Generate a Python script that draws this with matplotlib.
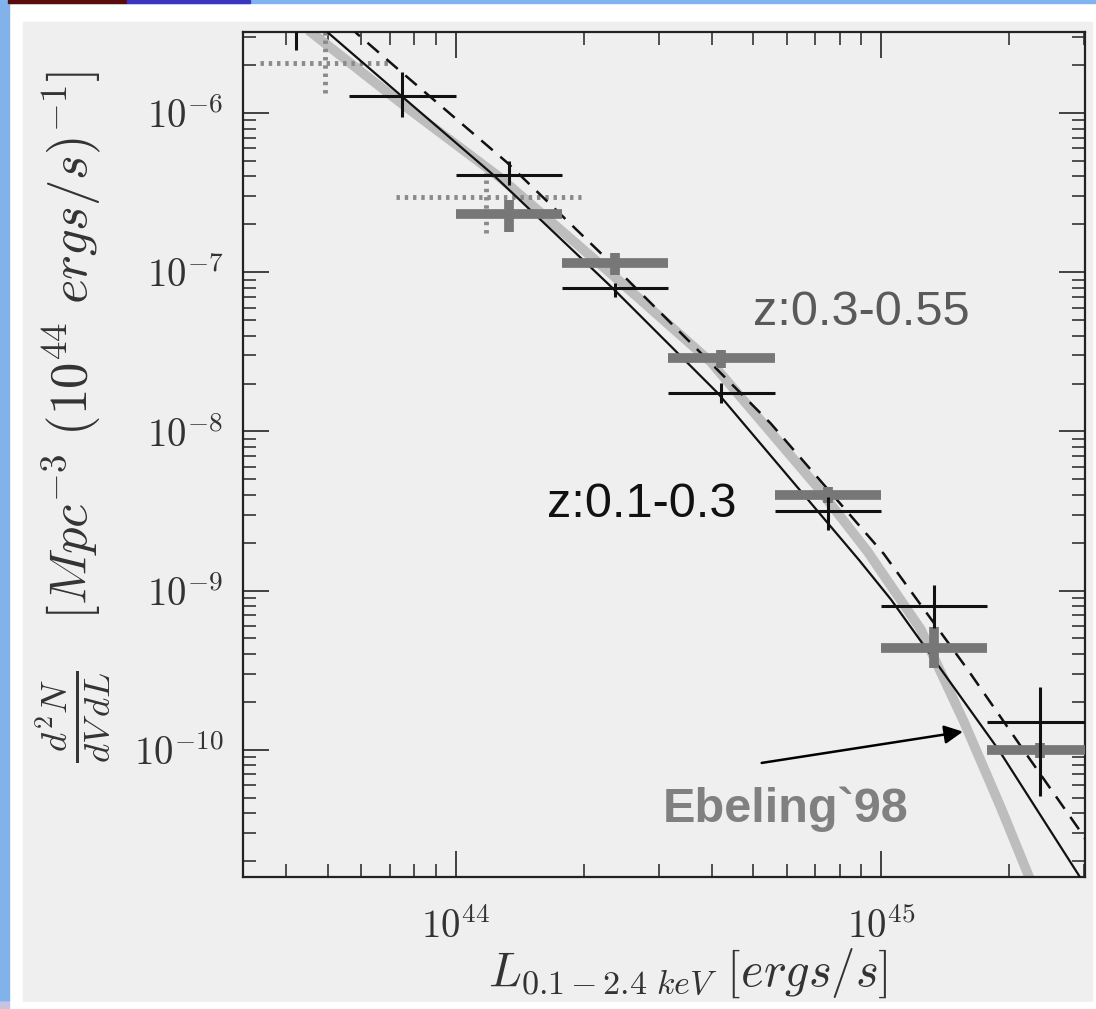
import numpy as np
import matplotlib
matplotlib.use("Agg")
import matplotlib.pyplot as plt
from matplotlib.patches import Rectangle
from matplotlib.ticker import LogLocator, NullFormatter, FixedLocator, FixedFormatter

plt.rcParams['mathtext.fontset'] = 'cm'

# bins in log10(L) (0.25 dex wide)
bin_lo = [43.50, 43.75, 44.00, 44.25, 44.50, 44.75, 45.00, 45.25]
bin_hi = [43.75, 44.00, 44.25, 44.50, 44.75, 45.00, 45.25, 45.50]

# z:0.1-0.3 (black), log10 of dN/dVdL
blk_y = [-5.35, -5.893, -6.389, -7.099, -7.758, -8.498, -9.095, -9.823]
blk_lo = [-5.604, -6.025, -6.452, -7.155, -7.820, -8.618, -9.233, -10.294]
blk_hi = [-5.10, -5.743, -6.301, -7.067, -7.695, -8.410, -8.963, -9.603]

# z:0.3-0.55 (grey), bins 2..7
gry_bin = [2, 3, 4, 5, 6, 7]
gry_y = [-6.634, -6.942, -7.538, -8.398, -9.358, -10.005]
gry_lo = [-6.747, -7.017, -7.601, -8.448, -9.484, -10.05]
gry_hi = [-6.546, -6.879, -7.488, -8.348, -9.227, -9.96]

# dotted local points
dot_x = [43.694, 44.071]
dot_xlo = [43.541, 43.859]
dot_xhi = [43.847, 44.294]
dot_y = [-5.686, -6.527]
dot_ylo = [-5.874, -6.753]
dot_yhi = [-5.40, -6.377]

# model curves (log10 L, log10 n)
solid_L = [43.682, 43.699, 43.873, 44.089, 44.369, 44.616, 44.948, 45.024, 45.278, 45.464, 45.482]
solid_n = [-5.454, -5.492, -5.893, -6.389, -7.099, -7.758, -8.806, -9.057, -10.005, -10.783, -10.865]
dash_L = [43.750, 43.767, 43.873, 44.120, 44.341, 44.546, 44.741, 45.007, 45.205, 45.336, 45.471, 45.49]
dash_n = [-5.45, -5.498, -5.743, -6.308, -6.879, -7.425, -7.950, -8.770, -9.500, -10.005, -10.520, -10.60]
ebel_L = [43.654, 43.878, 44.106, 44.369, 44.600, 44.852, 44.969, 45.094, 45.195, 45.282, 45.346, 45.358]
ebel_n = [-5.479, -5.950, -6.408, -7.017, -7.563, -8.354, -8.756, -9.245, -9.823, -10.363, -10.783, -10.865]

p = lambda a: np.power(10.0, np.asarray(a, dtype=float))

fig = plt.figure(figsize=(10.96, 10.09), dpi=100, facecolor='white')

# slide frame
fig.add_artist(Rectangle((23/1096, 1-1002/1009), (1092-23)/1096, (1002-22)/1009,
                         transform=fig.transFigure, color='#efefef', zorder=-5))
fig.add_artist(Rectangle((0, 0), 9/1096, 1, transform=fig.transFigure, color='#82b2ea', zorder=-4))
fig.add_artist(Rectangle((0, 1-3/1009), 1, 3/1009, transform=fig.transFigure, color='#80b4f0', zorder=-4))
fig.add_artist(Rectangle((8/1096, 1-3/1009), 119/1096, 3/1009, transform=fig.transFigure, color='#5a0c0c', zorder=-3))
fig.add_artist(Rectangle((127/1096, 1-3/1009), 123/1096, 3/1009, transform=fig.transFigure, color='#3a36c0', zorder=-3))

ax = fig.add_axes([243/1096, 1-877/1009, (1085-243)/1096, (877-32)/1009])
ax.set_facecolor('#efefef')
ax.set_xscale('log')
ax.set_yscale('log')
ax.set_xlim(p(43.50), p(45.48))
ax.set_ylim(p(-10.80), p(-5.49))

# curves
ax.plot(p(ebel_L), p(ebel_n), color='#bdbdbd', lw=7, solid_capstyle='butt', zorder=2)
ax.plot(p(solid_L), p(solid_n), color='#111111', lw=1.6, zorder=3)
ax.plot(p(dash_L), p(dash_n), color='#111111', lw=1.8, dashes=(6, 4), zorder=3)

# dotted points
ax.hlines(p(dot_y), p(dot_xlo), p(dot_xhi), colors='#8a8a8a', lw=3.5,
          linestyles=[(0, (0.7, 1.0))], zorder=2.5)
ax.vlines(p(dot_x), p(dot_ylo), p(dot_yhi), colors='#8a8a8a', lw=3.5,
          linestyles=[(0, (0.7, 1.0))], zorder=2.5)

# grey points
gc = [(bin_lo[i] + bin_hi[i]) / 2 for i in gry_bin]
ax.hlines(p(gry_y), p([bin_lo[i] for i in gry_bin]), p([bin_hi[i] for i in gry_bin]),
          colors='#777777', lw=7, zorder=4)
ax.vlines(p(gc), p(gry_lo), p(gry_hi), colors='#777777', lw=7, zorder=4)

# black points
bc = [(a + b) / 2 for a, b in zip(bin_lo, bin_hi)]
ax.hlines(p(blk_y), p(bin_lo), p(bin_hi), colors='#111111', lw=2.2, zorder=5)
ax.vlines(p(bc), p(blk_lo), p(blk_hi), colors='#111111', lw=2.2, zorder=5)

# ticks
for s in ax.spines.values():
    s.set_color('#222222')
    s.set_linewidth(1.6)
ax.xaxis.set_major_locator(FixedLocator([1e44, 1e45]))
ax.xaxis.set_major_formatter(FixedFormatter([r'$10^{44}$', r'$10^{45}$']))
ax.xaxis.set_minor_locator(LogLocator(base=10, subs=np.arange(2, 10)))
ax.xaxis.set_minor_formatter(NullFormatter())
yt = [1e-10, 1e-9, 1e-8, 1e-7, 1e-6]
ax.yaxis.set_major_locator(FixedLocator(yt))
ax.yaxis.set_major_formatter(FixedFormatter([r'$10^{-10}$', r'$10^{-9}$', r'$10^{-8}$',
                                             r'$10^{-7}$', r'$10^{-6}$']))
ax.yaxis.set_minor_locator(LogLocator(base=10, subs=np.arange(2, 10), numticks=20))
ax.yaxis.set_minor_formatter(NullFormatter())
ax.tick_params(which='both', direction='in', top=True, right=True, color='#333333')
ax.tick_params(which='major', length=19, width=1.3, labelsize=28, labelcolor='#333333')
ax.tick_params(which='minor', length=9.5, width=1.2)
ax.tick_params(axis='x', which='major', pad=22)
ax.tick_params(axis='y', which='major', pad=14)

ax.set_xlabel(r'$L_{0.1-2.4\ keV}\ [ergs/s]$', fontsize=35, color='#333333')
ax.xaxis.set_label_coords(0.528, -0.082)
ax.set_ylabel(r'$\frac{d^2N}{dV\,dL}\ \ \ [Mpc^{-3}\ (10^{44}\ ergs/s)^{-1}]$',
              fontsize=38, color='#333333')
ax.yaxis.set_label_coords(-0.155, 0.545)

# annotations
ax.text(0.606, 0.653, 'z:0.3-0.55', transform=ax.transAxes, fontsize=35,
        family='Liberation Sans', color='#5a5a5a', va='baseline', zorder=6)
ax.text(0.361, 0.426, 'z:0.1-0.3', transform=ax.transAxes, fontsize=35,
        family='Liberation Sans', color='#111111', va='baseline', zorder=6)
ax.text(0.498, 0.065, 'Ebeling`98', transform=ax.transAxes, fontsize=35,
        family='Liberation Sans', fontweight='bold', color='#808080', va='baseline', zorder=6)
ax.annotate('', xy=(0.855, 0.172), xytext=(0.616, 0.135),
            xycoords='axes fraction', textcoords='axes fraction',
            arrowprops=dict(arrowstyle='-|>', color='black', lw=1.8, mutation_scale=28,
                            shrinkA=0, shrinkB=0), zorder=6)

# white strip below panel cuts the axis label
fig.add_artist(Rectangle((0, 0), 1, 1-1002/1009, transform=fig.transFigure, color='white', zorder=20))
fig.add_artist(Rectangle((0, 0), 9/1096, 1-1002/1009, transform=fig.transFigure, color='#c8c4e0', zorder=21))

fig.savefig('out.png', dpi=100, facecolor='white')
